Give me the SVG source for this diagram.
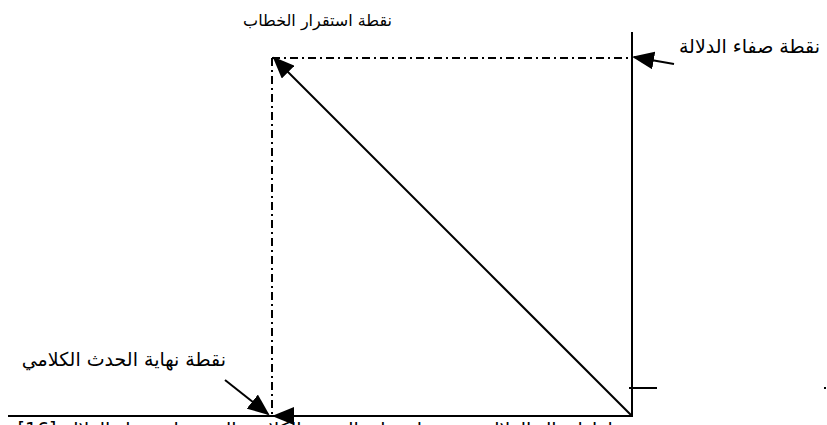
<svg xmlns="http://www.w3.org/2000/svg" width="827" height="425" viewBox="0 0 827 425">
<style>
.ln{stroke:#000;stroke-width:2;fill:none}
.dd{stroke:#000;stroke-width:2;fill:none;stroke-dasharray:8,4,2,4}
.lb{font-family:"DejaVu Sans","Noto Sans",sans-serif;fill:#000;direction:rtl}
</style>
<defs>
<marker id="ahb" markerWidth="22" markerHeight="18" refX="20" refY="9" orient="auto" markerUnits="userSpaceOnUse" viewBox="0 0 22 18">
<path d="M0,0 L22,9 L0,18 Z" fill="#000"/>
</marker>
</defs>
<g id="connectors">
<line class="ln" x1="632" y1="32" x2="632" y2="417"/>
<line class="ln" x1="8" y1="416" x2="633" y2="416"/>
<line class="ln" x1="629" y1="388" x2="657" y2="388"/>
<line class="dd" x1="272" y1="58" x2="632" y2="58"/>
<line class="dd" x1="272" y1="58" x2="272" y2="416"/>
<line class="ln" x1="632" y1="416" x2="274" y2="58" marker-end="url(#ahb)"/>
<line class="ln" x1="674" y1="64" x2="634" y2="57" marker-end="url(#ahb)"/>
<line class="ln" x1="225" y1="380" x2="268" y2="414" marker-end="url(#ahb)"/>
<line class="ln" x1="300" y1="416" x2="274" y2="416" marker-end="url(#ahb)"/>
<rect x="824" y="387" width="2" height="2" fill="#000"/>
</g>
<g id="node-stability">
<text class="lb" x="392" y="26" text-anchor="start" style="font-size:16px">نقطة استقرار الخطاب</text>
</g>
<g id="node-clarity">
<text class="lb" x="820" y="53" text-anchor="start" style="font-size:19px">نقطة صفاء الدلالة</text>
</g>
<g id="node-end">
<text class="lb" x="226" y="366" text-anchor="start" style="font-size:19px">نقطة نهاية الحدث الكلامي</text>
</g>
<g id="caption">
<text class="lb" x="645" y="436" text-anchor="start" style="font-size:19px">مخطط انتقال الدلالة من نقطة نهاية الحدث الكلامي إلى نقطة صفاء الدلالة [16]</text>
</g>
</svg>
